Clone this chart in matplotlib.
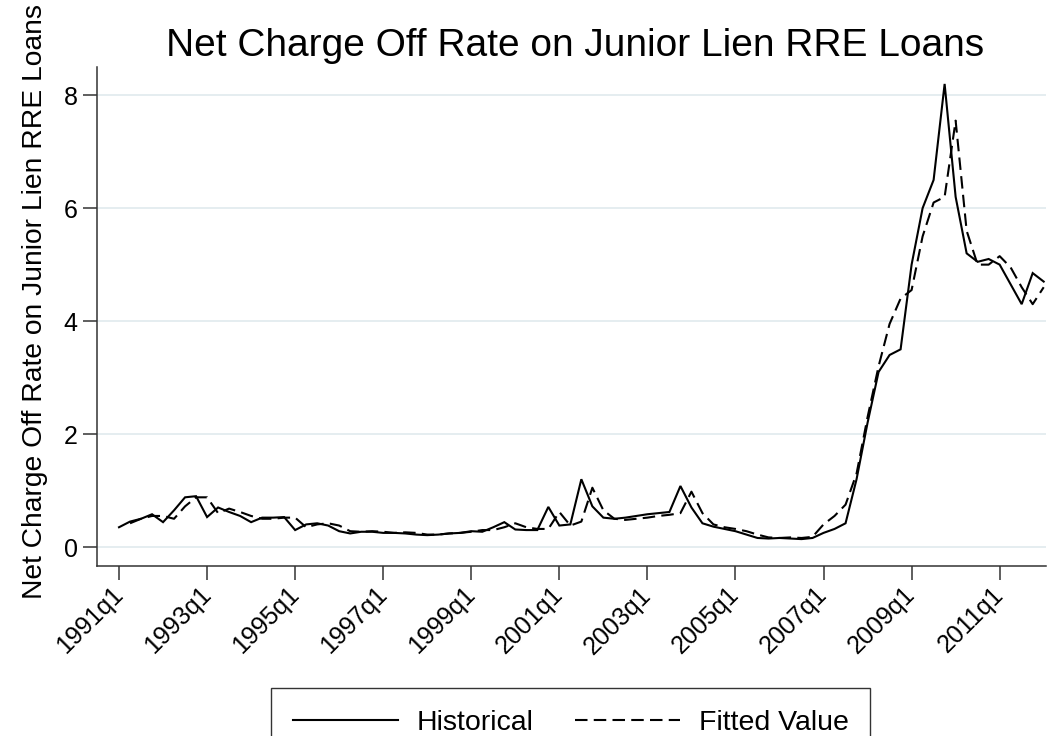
import matplotlib
matplotlib.use("Agg")
import matplotlib.pyplot as plt
from matplotlib.lines import Line2D

plt.rcParams['font.family'] = ['Liberation Sans', 'DejaVu Sans']

# quarterly series, 1991q1 .. 2012q1
historical = [0.35, 0.45, 0.50, 0.58, 0.44, 0.65, 0.88, 0.90, 0.53, 0.70,
              0.62, 0.55, 0.44, 0.52, 0.52, 0.53, 0.30, 0.40, 0.42, 0.38,
              0.28, 0.24, 0.27, 0.27, 0.25, 0.25, 0.24, 0.22, 0.21, 0.22,
              0.24, 0.25, 0.28, 0.27, 0.35, 0.44, 0.31, 0.30, 0.30, 0.71,
              0.38, 0.40, 1.20, 0.72, 0.52, 0.50, 0.52, 0.55, 0.58, 0.60,
              0.62, 1.08, 0.70, 0.42, 0.36, 0.32, 0.28, 0.22, 0.16, 0.15,
              0.16, 0.15, 0.14, 0.16, 0.25, 0.32, 0.42, 1.20, 2.20, 3.10,
              3.40, 3.50, 5.00, 6.00, 6.50, 8.20, 6.20, 5.20, 5.05, 5.10,
              5.00, 4.65, 4.30, 4.85, 4.70]
fitted = [None, 0.42, 0.50, 0.55, 0.55, 0.50, 0.72, 0.88, 0.88, 0.60,
          0.68, 0.62, 0.55, 0.50, 0.50, 0.52, 0.52, 0.35, 0.40, 0.42,
          0.38, 0.28, 0.27, 0.28, 0.27, 0.25, 0.26, 0.25, 0.22, 0.22,
          0.24, 0.25, 0.27, 0.30, 0.30, 0.35, 0.42, 0.35, 0.32, 0.32,
          0.62, 0.38, 0.45, 1.05, 0.65, 0.50, 0.48, 0.50, 0.52, 0.55,
          0.57, 0.60, 0.98, 0.60, 0.40, 0.35, 0.32, 0.28, 0.22, 0.17,
          0.16, 0.17, 0.16, 0.18, 0.40, 0.55, 0.75, 1.30, 2.30, 3.20,
          3.95, 4.40, 4.55, 5.50, 6.10, 6.20, 7.55, 5.60, 5.00, 5.00,
          5.15, 4.95, 4.60, 4.30, 4.60]
quarters = list(range(len(historical)))
tick_pos = list(range(0, 84, 8))
tick_labels = [f"{1991 + 2 * k}q1" for k in range(len(tick_pos))]
y_ticks = [0, 2, 4, 6, 8]

fig = plt.figure(figsize=(10.52, 7.36), dpi=100)
ax = fig.add_axes([0.0922, 0.231, 0.902, 0.678])

fq = [q for q, v in zip(quarters, fitted) if v is not None]
fv = [v for v in fitted if v is not None]
ax.plot(quarters, historical, color='black', lw=1.5, solid_joinstyle='miter')
ax.plot(fq, fv, color='black', lw=1.5, dashes=(6, 3))

ax.set_xlim(-2, 84.2)
ax.set_ylim(-0.336, 8.5)
ax.set_yticks(y_ticks)
ax.set_xticks(tick_pos)
ax.set_xticklabels(tick_labels, rotation=45, ha='right', va='center',
                   rotation_mode='anchor')
ax.tick_params(axis='both', labelsize=18, length=10, width=1.1, color='#333333',
               direction='out')
ax.tick_params(axis='y', pad=4)
ax.tick_params(axis='x', pad=8)
ax.grid(axis='y', color='#e3ecef', lw=1.3)
ax.set_axisbelow(True)
for s in ['top', 'right']:
    ax.spines[s].set_visible(False)
for s in ['left', 'bottom']:
    ax.spines[s].set_color('#333333')
    ax.spines[s].set_linewidth(1.1)

ax.set_ylabel("Net Charge Off Rate on Junior Lien RRE Loans", fontsize=20.3)
ax.yaxis.set_label_coords(-0.052, 0.531)
fig.suptitle("Net Charge Off Rate on Junior Lien RRE Loans", fontsize=28,
             x=0.547, y=0.962)

handles = [Line2D([], [], color='black', lw=1.5),
           Line2D([], [], color='black', lw=1.5, dashes=(6, 3))]
leg = fig.legend(handles, ["Historical", "Fitted Value"], loc='upper center',
                 bbox_to_anchor=(0.5425, 0.065), ncol=2, fontsize=20.5,
                 handlelength=3.7, columnspacing=1.45, handletextpad=0.66,
                 fancybox=False, edgecolor='black', borderpad=0.75,
                 borderaxespad=0)
leg.get_frame().set_linewidth(1.0)

fig.savefig("out.png", dpi=100)
